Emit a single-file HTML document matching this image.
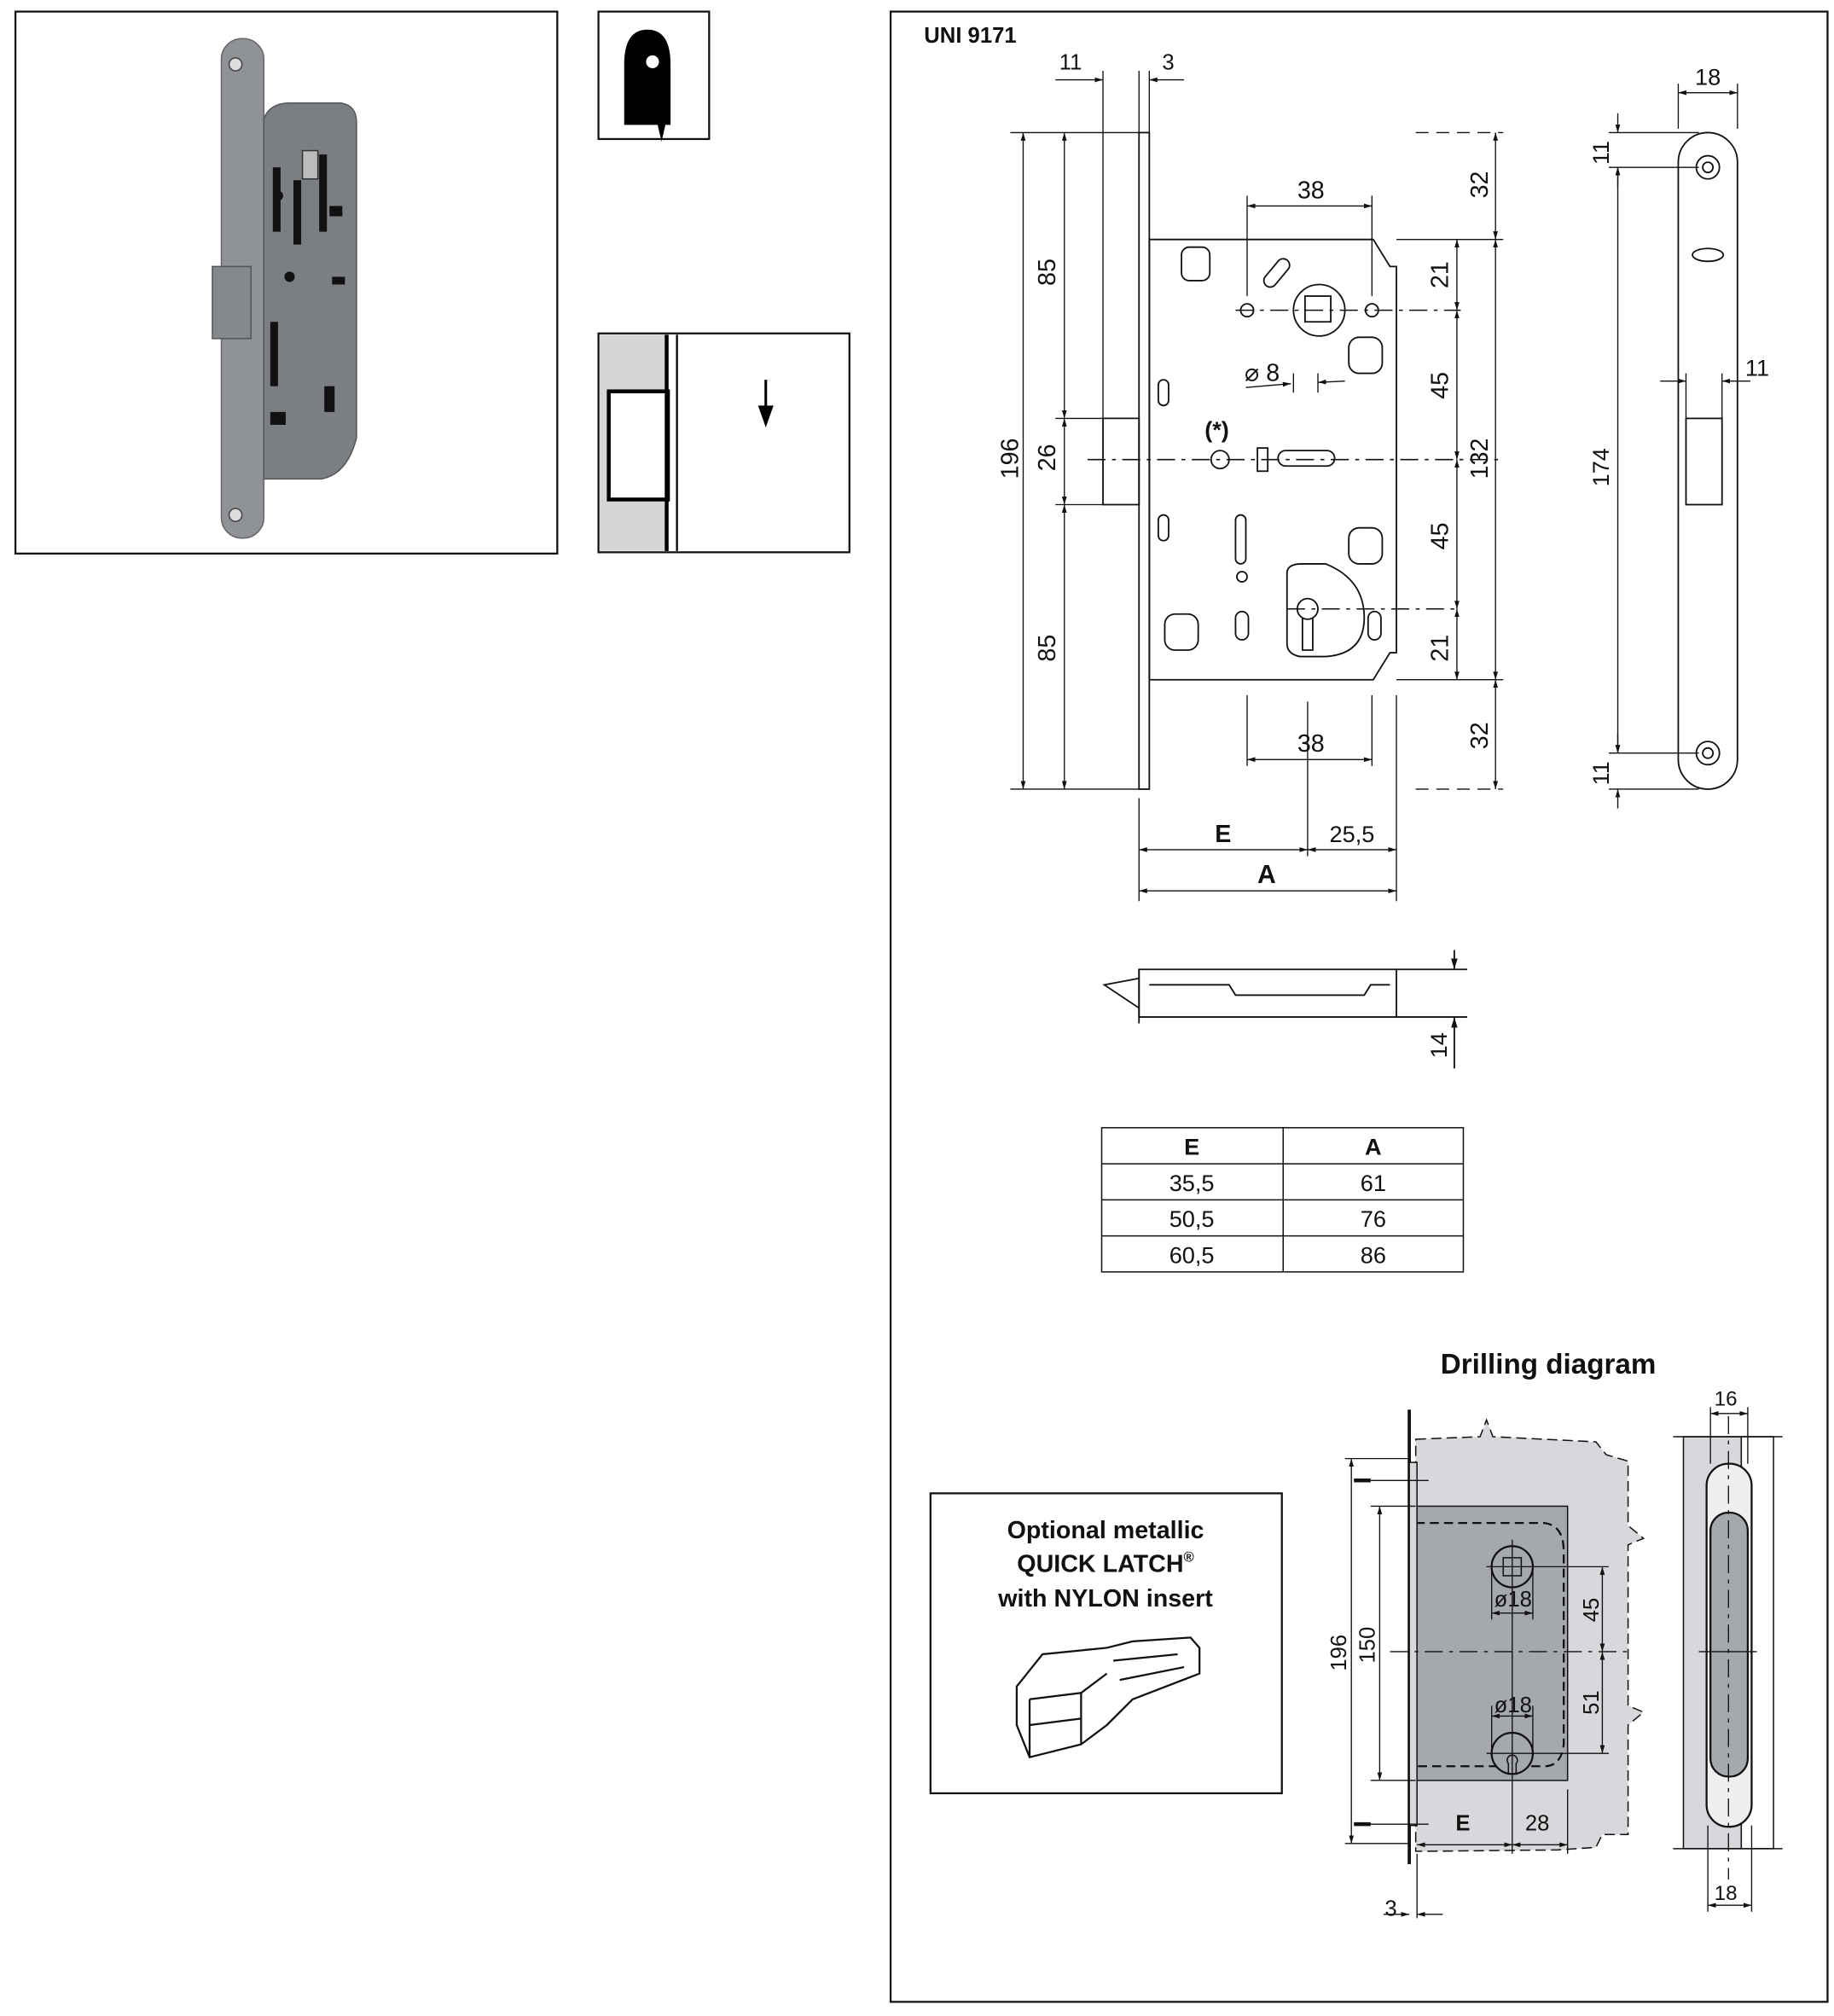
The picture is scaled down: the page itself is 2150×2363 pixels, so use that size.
<!DOCTYPE html>
<html><head><meta charset="utf-8"><style>
html,body{margin:0;padding:0;background:#fff}
svg{display:block}
text{font-family:"Liberation Sans",sans-serif;fill:#111}
.t{font-size:17px}
.b{font-weight:bold}
</style></head><body>
<svg width="2150" height="2363" viewBox="0 0 1425 1566" preserveAspectRatio="none" xmlns="http://www.w3.org/2000/svg">
<defs>
<marker id="a" viewBox="0 0 10 10" refX="10" refY="5" markerWidth="7" markerHeight="7" orient="auto-start-reverse"><path d="M0,2 L10,5 L0,8z" fill="#111"/></marker>
</defs>
<g fill="none" stroke="#111" stroke-width="1">
<!-- photo box -->
<rect x="12" y="9" width="421" height="421" stroke-width="1.5"/>
<!-- icon boxes -->
<rect x="465" y="9" width="86" height="99" stroke-width="1.5"/>
<rect x="465" y="259" width="195" height="170" stroke-width="1.5"/>
<!-- main frame -->
<rect x="692" y="9" width="728" height="1546" stroke-width="1.5"/>
</g>
<!-- photo -->
<g>
<rect x="172" y="30" width="33" height="388" rx="16" fill="#8f9296" stroke="#666"/>
<path d="M205,92 Q210,80 225,80 L265,80 Q277,82 277,95 L277,340 Q270,368 250,372 L205,372z" fill="#7b7e83" stroke="#555"/>
<rect x="165" y="207" width="30" height="56" fill="#85888c" stroke="#555"/>
<circle cx="183" cy="50" r="5" fill="#ddd" stroke="#444"/>
<circle cx="183" cy="400" r="5" fill="#ddd" stroke="#444"/>
<g fill="#111">
<rect x="212" y="130" width="6" height="50"/><rect x="228" y="140" width="6" height="50"/><rect x="248" y="120" width="6" height="60"/>
<rect x="210" y="250" width="6" height="50"/><rect x="256" y="160" width="10" height="8"/><rect x="258" y="215" width="10" height="6"/>
<rect x="210" y="320" width="12" height="10"/><rect x="252" y="300" width="8" height="20"/><circle cx="216" cy="152" r="4"/><circle cx="225" cy="215" r="4"/>
</g>
<rect x="235" y="117" width="12" height="22" fill="#bbb" stroke="#333"/>
</g>
<!-- icon 1 -->
<path d="M485,97 L485,50 Q485,23 503,23 Q521,23 521,50 L521,97 L517,97 L514,110 L511,97z" fill="#000"/>
<circle cx="507" cy="48" r="5" fill="#fff"/>
<!-- icon 2 -->
<rect x="466" y="260" width="51" height="168" fill="#d5d6d8"/>
<rect x="473" y="304" width="46" height="84" fill="#fff" stroke="#000" stroke-width="3"/>
<line x1="518" y1="260" x2="518" y2="428" stroke="#000" stroke-width="3"/>
<line x1="526" y1="260" x2="526" y2="428" stroke="#000" stroke-width="1.5"/>
<line x1="595" y1="295" x2="595" y2="318" stroke="#000" stroke-width="2"/>
<path d="M589,315 L601,315 L595,332z" fill="#000"/>

<text x="718" y="33" class="b" font-size="17">UNI 9171</text>

<!-- main lock drawing -->
<g fill="none" stroke="#111" stroke-width="1.2">
<rect x="885" y="103" width="8" height="510"/>
<path d="M893,186 L1067,186 L1080,207 L1085,207 L1085,507 L1080,507 L1067,528 L893,528z"/>
<path d="M857,325 L885,325 L885,392 L857,392z"/>
<circle cx="969" cy="241" r="5"/><circle cx="1066" cy="241" r="5"/>
<circle cx="1025" cy="241" r="20"/><rect x="1014" y="230" width="20" height="20"/>
<path d="M983,215 l10,-12 a5,5 0 0 1 8,6 l-10,12 a5,5 0 0 1 -8,-6z"/>
<rect x="918" y="192" width="22" height="26" rx="6"/><rect x="1048" y="262" width="26" height="28" rx="8"/>
<rect x="1048" y="410" width="26" height="28" rx="8"/><rect x="905" y="477" width="26" height="28" rx="8"/>
<circle cx="948" cy="357" r="7"/>
<rect x="977" y="348" width="8" height="18"/><rect x="993" y="350" width="44" height="12" rx="6"/>
<rect x="960" y="400" width="8" height="38" rx="4"/><circle cx="965" cy="448" r="4"/>
<rect x="960" y="475" width="10" height="22" rx="5"/><rect x="1063" y="475" width="10" height="22" rx="5"/>
<path d="M1000,445 Q1000,438 1012,438 L1030,438 Q1060,450 1060,480 Q1060,508 1030,510 L1010,510 Q1000,508 1000,500z"/>
<circle cx="1016" cy="473" r="8"/><path d="M1012,480 L1012,505 L1020,505 L1020,480"/>
<rect x="900" y="295" width="8" height="20" rx="4"/><rect x="900" y="400" width="8" height="20" rx="4"/>
</g>
<!-- center lines -->
<g stroke="#111" stroke-width="1" stroke-dasharray="14,5,3,5" fill="none">
<line x1="845" y1="357" x2="1165" y2="357"/>
<line x1="960" y1="241" x2="1135" y2="241"/>
<line x1="1000" y1="473" x2="1135" y2="473"/>
</g>
<!-- dimensions main -->
<g stroke="#111" stroke-width="0.9" fill="none">
<line x1="857" y1="55" x2="857" y2="325"/><line x1="885" y1="55" x2="885" y2="103"/><line x1="893" y1="55" x2="893" y2="103"/>
<line x1="820" y1="62" x2="857" y2="62" marker-end="url(#a)"/><line x1="920" y1="62" x2="893" y2="62" marker-end="url(#a)"/>
<line x1="785" y1="103" x2="885" y2="103"/><line x1="785" y1="613" x2="885" y2="613"/>
<line x1="795" y1="103" x2="795" y2="613" marker-start="url(#a)" marker-end="url(#a)"/>
<line x1="827" y1="103" x2="827" y2="325" marker-start="url(#a)" marker-end="url(#a)"/>
<line x1="827" y1="325" x2="827" y2="392" marker-start="url(#a)" marker-end="url(#a)"/>
<line x1="827" y1="392" x2="827" y2="613" marker-start="url(#a)" marker-end="url(#a)"/>
<line x1="820" y1="325" x2="857" y2="325"/><line x1="820" y1="392" x2="857" y2="392"/>
<line x1="969" y1="152" x2="969" y2="230"/><line x1="1066" y1="152" x2="1066" y2="230"/>
<line x1="969" y1="160" x2="1066" y2="160" marker-start="url(#a)" marker-end="url(#a)"/>
<line x1="969" y1="540" x2="969" y2="595"/><line x1="1066" y1="540" x2="1066" y2="595"/>
<line x1="969" y1="590" x2="1066" y2="590" marker-start="url(#a)" marker-end="url(#a)"/>
<line x1="1016" y1="545" x2="1016" y2="665"/>
<line x1="1100" y1="103" x2="1168" y2="103" stroke-dasharray="10,6"/><line x1="1100" y1="613" x2="1168" y2="613" stroke-dasharray="10,6"/>
<line x1="1085" y1="186" x2="1168" y2="186"/><line x1="1085" y1="528" x2="1168" y2="528"/>
<line x1="1162" y1="103" x2="1162" y2="186" marker-start="url(#a)" marker-end="url(#a)"/>
<line x1="1162" y1="186" x2="1162" y2="528" marker-start="url(#a)" marker-end="url(#a)"/>
<line x1="1162" y1="528" x2="1162" y2="613" marker-start="url(#a)" marker-end="url(#a)"/>
<line x1="1132" y1="186" x2="1132" y2="241" marker-start="url(#a)" marker-end="url(#a)"/>
<line x1="1132" y1="241" x2="1132" y2="357" marker-start="url(#a)" marker-end="url(#a)"/>
<line x1="1132" y1="357" x2="1132" y2="473" marker-start="url(#a)" marker-end="url(#a)"/>
<line x1="1132" y1="473" x2="1132" y2="528" marker-start="url(#a)" marker-end="url(#a)"/>
<line x1="885" y1="620" x2="885" y2="700"/><line x1="1085" y1="540" x2="1085" y2="700"/>
<line x1="885" y1="660" x2="1016" y2="660" marker-start="url(#a)" marker-end="url(#a)"/>
<line x1="1016" y1="660" x2="1085" y2="660" marker-start="url(#a)" marker-end="url(#a)"/>
<line x1="885" y1="692" x2="1085" y2="692" marker-start="url(#a)" marker-end="url(#a)"/>
<line x1="968" y1="301" x2="1003" y2="298" marker-end="url(#a)"/><line x1="1045" y1="296" x2="1024" y2="297" marker-end="url(#a)"/>
<line x1="1005" y1="290" x2="1005" y2="305"/><line x1="1024" y1="290" x2="1024" y2="305"/>
</g>
<g class="t">
<text x="823" y="54" font-size="17">11</text><text x="903" y="54" font-size="17">3</text>
<text x="1008" y="154" font-size="19">38</text><text x="1008" y="584" font-size="19">38</text>
<text x="944" y="654" font-size="19" class="b">E</text><text x="1033" y="654" font-size="18">25,5</text>
<text x="977" y="686" font-size="20" class="b">A</text>
<text x="967" y="296" font-size="19">⌀ 8</text>
<text x="936" y="340" font-size="18" class="b">(*)</text>
</g>
<g font-size="19">
<text transform="translate(791,372) rotate(-90)">196</text>
<text transform="translate(820,222) rotate(-90)">85</text>
<text transform="translate(820,366) rotate(-90)">26</text>
<text transform="translate(820,514) rotate(-90)">85</text>
<text transform="translate(1156,154) rotate(-90)">32</text>
<text transform="translate(1156,582) rotate(-90)">32</text>
<text transform="translate(1125,224) rotate(-90)">21</text>
<text transform="translate(1125,310) rotate(-90)">45</text>
<text transform="translate(1125,427) rotate(-90)">45</text>
<text transform="translate(1125,514) rotate(-90)">21</text>
<text transform="translate(1156,372) rotate(-90)">132</text>
</g>
<!-- strike plate -->
<g fill="none" stroke="#111" stroke-width="1.2">
<rect x="1304" y="103" width="46" height="510" rx="23"/>
<circle cx="1327" cy="130" r="9"/><circle cx="1327" cy="130" r="4"/>
<circle cx="1327" cy="585" r="9"/><circle cx="1327" cy="585" r="4"/>
<rect x="1310" y="325" width="28" height="67"/>
<ellipse cx="1327" cy="198" rx="12" ry="5"/>
</g>
<g stroke="#111" stroke-width="0.9" fill="none">
<line x1="1304" y1="65" x2="1304" y2="100"/><line x1="1350" y1="65" x2="1350" y2="100"/>
<line x1="1304" y1="72" x2="1350" y2="72" marker-start="url(#a)" marker-end="url(#a)"/>
<line x1="1250" y1="103" x2="1320" y2="103"/><line x1="1250" y1="130" x2="1320" y2="130"/>
<line x1="1250" y1="585" x2="1320" y2="585"/><line x1="1250" y1="613" x2="1320" y2="613"/>
<line x1="1257" y1="130" x2="1257" y2="585" marker-start="url(#a)" marker-end="url(#a)"/>
<line x1="1257" y1="88" x2="1257" y2="103" marker-end="url(#a)"/><line x1="1257" y1="145" x2="1257" y2="130" marker-end="url(#a)"/>
<line x1="1257" y1="570" x2="1257" y2="585" marker-end="url(#a)"/><line x1="1257" y1="628" x2="1257" y2="613" marker-end="url(#a)"/>
<line x1="1310" y1="290" x2="1310" y2="325"/><line x1="1338" y1="290" x2="1338" y2="325"/>
<line x1="1290" y1="296" x2="1310" y2="296" marker-end="url(#a)"/><line x1="1360" y1="296" x2="1338" y2="296" marker-end="url(#a)"/>
</g>
<g font-size="18">
<text x="1317" y="66">18</text><text x="1356" y="292">11</text>
<text transform="translate(1250,128) rotate(-90)">11</text>
<text transform="translate(1250,610) rotate(-90)">11</text>
<text transform="translate(1250,378) rotate(-90)">174</text>
</g>
<!-- bolt -->
<g fill="none" stroke="#111" stroke-width="1.2">
<path d="M885,753 L1085,753 L1085,790 L885,790z"/>
<path d="M885,760 L858,765 L885,783"/><line x1="885" y1="753" x2="885" y2="795"/>
<path d="M893,765 L955,765 L960,773 L1060,773 L1065,765 L1080,765"/>
<line x1="1085" y1="753" x2="1140" y2="753"/><line x1="1085" y1="790" x2="1140" y2="790"/>
<line x1="1130" y1="738" x2="1130" y2="753" marker-end="url(#a)"/><line x1="1130" y1="830" x2="1130" y2="790" marker-end="url(#a)"/>
</g>
<text transform="translate(1124,822) rotate(-90)" font-size="18">14</text>
<!-- table -->
<g fill="none" stroke="#111" stroke-width="1">
<rect x="856" y="876" width="281" height="112"/>
<line x1="856" y1="904" x2="1137" y2="904"/><line x1="856" y1="932" x2="1137" y2="932"/><line x1="856" y1="960" x2="1137" y2="960"/>
<line x1="997" y1="876" x2="997" y2="988"/>
</g>
<g font-size="18" text-anchor="middle">
<text x="926" y="897" class="b">E</text><text x="1067" y="897" class="b">A</text>
<text x="926" y="925">35,5</text><text x="1067" y="925">61</text>
<text x="926" y="953">50,5</text><text x="1067" y="953">76</text>
<text x="926" y="981">60,5</text><text x="1067" y="981">86</text>
</g>
<text x="1203" y="1067" font-size="22" class="b" text-anchor="middle">Drilling diagram</text>
<!-- quick latch -->
<rect x="723" y="1160" width="273" height="233" fill="none" stroke="#111" stroke-width="1.5"/>
<g font-size="19" class="b" text-anchor="middle">
<text x="859" y="1195">Optional metallic</text>
<text x="859" y="1221">QUICK LATCH<tspan font-size="11" dy="-8">®</tspan></text>
<text x="859" y="1248">with NYLON insert</text>
</g>
<g fill="none" stroke="#111" stroke-width="1.5">
<path d="M790,1310 L810,1285 L860,1280 L880,1275 L925,1272 L932,1280 L932,1300 L880,1320 L860,1340 L840,1355 L800,1365 L790,1340z"/>
<path d="M800,1320 L840,1315 L860,1300 M800,1340 L840,1335 M800,1365 L800,1320 M840,1355 L840,1315 M865,1290 L915,1285 M870,1305 L920,1295"/>
</g>
<!-- drilling diagram -->
<path d="M1100,1118 L1150,1116 L1155,1103 L1160,1116 L1240,1120 L1248,1130 L1265,1135 L1265,1185 L1277,1195 L1265,1200 L1265,1325 L1277,1330 L1265,1340 L1265,1425 L1245,1425 L1240,1435 L1210,1437 L1110,1438 L1100,1438z" fill="#d6d8db" stroke="#111" stroke-dasharray="8,4"/>
<rect x="1100" y="1170" width="118" height="213" fill="#a5a8ad" stroke="#111"/>
<path d="M1100,1183 L1200,1183 Q1215,1185 1215,1205 L1215,1355 Q1213,1372 1200,1372 L1100,1372" fill="none" stroke="#111" stroke-width="1.5" stroke-dasharray="7,4"/>
<line x1="1095" y1="1095" x2="1095" y2="1448" stroke="#111" stroke-width="2.5"/>
<rect x="1095" y="1136" width="6" height="282" fill="#d6d8db" stroke="#111"/>
<circle cx="1175" cy="1217" r="16" fill="#a5a8ad" stroke="#111" stroke-width="1.5"/>
<rect x="1168" y="1210" width="14" height="14" fill="none" stroke="#111"/>
<circle cx="1175" cy="1362" r="16" fill="#a5a8ad" stroke="#111" stroke-width="1.5"/>
<path d="M1172,1370 a4,4 0 1 1 6,0 l0,8 l-6,0z" fill="none" stroke="#111"/>
<g stroke="#111" stroke-width="0.9" fill="none">
<line x1="1052" y1="1150" x2="1065" y2="1150" stroke-width="3"/><line x1="1052" y1="1417" x2="1065" y2="1417" stroke-width="3"/>
<line x1="1065" y1="1150" x2="1110" y2="1150"/><line x1="1065" y1="1417" x2="1110" y2="1417"/>
<line x1="1045" y1="1133" x2="1095" y2="1133"/><line x1="1045" y1="1432" x2="1095" y2="1432"/>
<line x1="1050" y1="1133" x2="1050" y2="1432" marker-start="url(#a)" marker-end="url(#a)"/>
<line x1="1065" y1="1170" x2="1100" y2="1170"/><line x1="1065" y1="1383" x2="1100" y2="1383"/>
<line x1="1072" y1="1170" x2="1072" y2="1383" marker-start="url(#a)" marker-end="url(#a)"/>
<line x1="1080" y1="1283" x2="1265" y2="1283" stroke-dasharray="14,5,3,5"/>
<line x1="1155" y1="1217" x2="1250" y2="1217"/><line x1="1155" y1="1362" x2="1250" y2="1362"/>
<line x1="1245" y1="1217" x2="1245" y2="1283" marker-start="url(#a)" marker-end="url(#a)"/>
<line x1="1245" y1="1283" x2="1245" y2="1362" marker-start="url(#a)" marker-end="url(#a)"/>
<line x1="1175" y1="1196" x2="1175" y2="1440"/>
<line x1="1159" y1="1217" x2="1159" y2="1258"/><line x1="1191" y1="1217" x2="1191" y2="1258"/>
<line x1="1159" y1="1253" x2="1191" y2="1253" marker-start="url(#a)" marker-end="url(#a)"/>
<line x1="1159" y1="1325" x2="1159" y2="1362"/><line x1="1191" y1="1325" x2="1191" y2="1362"/>
<line x1="1159" y1="1333" x2="1191" y2="1333" marker-start="url(#a)" marker-end="url(#a)"/>
<line x1="1218" y1="1390" x2="1218" y2="1440"/>
<line x1="1101" y1="1433" x2="1175" y2="1433" marker-start="url(#a)" marker-end="url(#a)"/>
<line x1="1175" y1="1433" x2="1218" y2="1433" marker-start="url(#a)" marker-end="url(#a)"/>
<line x1="1101" y1="1440" x2="1101" y2="1490"/>
<line x1="1075" y1="1487" x2="1095" y2="1487" marker-end="url(#a)"/><line x1="1121" y1="1487" x2="1101" y2="1487" marker-end="url(#a)"/>
</g>
<g font-size="17">
<text x="1161" y="1248">ø18</text><text x="1161" y="1330">ø18</text>
<text x="1131" y="1422" class="b">E</text><text x="1185" y="1422">28</text>
<text x="1076" y="1488">3</text>
<text transform="translate(1046,1298) rotate(-90)">196</text>
<text transform="translate(1068,1292) rotate(-90)">150</text>
<text transform="translate(1242,1260) rotate(-90)">45</text>
<text transform="translate(1242,1332) rotate(-90)">51</text>
</g>
<!-- drilling right -->
<rect x="1308" y="1116" width="45" height="320" fill="#d6d8db" stroke="#111"/>
<rect x="1353" y="1116" width="25" height="320" fill="#fff" stroke="#111"/>
<line x1="1300" y1="1116" x2="1385" y2="1116" stroke="#111"/><line x1="1300" y1="1436" x2="1385" y2="1436" stroke="#111"/>
<rect x="1326" y="1137" width="35" height="282" rx="17" fill="#eeeff0" stroke="#111" stroke-width="1.5"/>
<rect x="1329" y="1175" width="29" height="205" rx="14" fill="#a5a8ad" stroke="#111" stroke-width="1.5"/>
<g stroke="#111" stroke-width="0.9" fill="none">
<line x1="1343" y1="1100" x2="1343" y2="1460" stroke-dasharray="14,5,3,5"/>
<line x1="1320" y1="1283" x2="1365" y2="1283"/>
<line x1="1329" y1="1093" x2="1329" y2="1137"/><line x1="1358" y1="1093" x2="1358" y2="1137"/>
<line x1="1329" y1="1098" x2="1358" y2="1098" marker-start="url(#a)" marker-end="url(#a)"/>
<line x1="1327" y1="1418" x2="1327" y2="1485"/><line x1="1361" y1="1418" x2="1361" y2="1485"/>
<line x1="1327" y1="1480" x2="1361" y2="1480" marker-start="url(#a)" marker-end="url(#a)"/>
</g>
<text x="1332" y="1092" font-size="16">16</text><text x="1332" y="1476" font-size="16">18</text>
</svg>
</body></html>
